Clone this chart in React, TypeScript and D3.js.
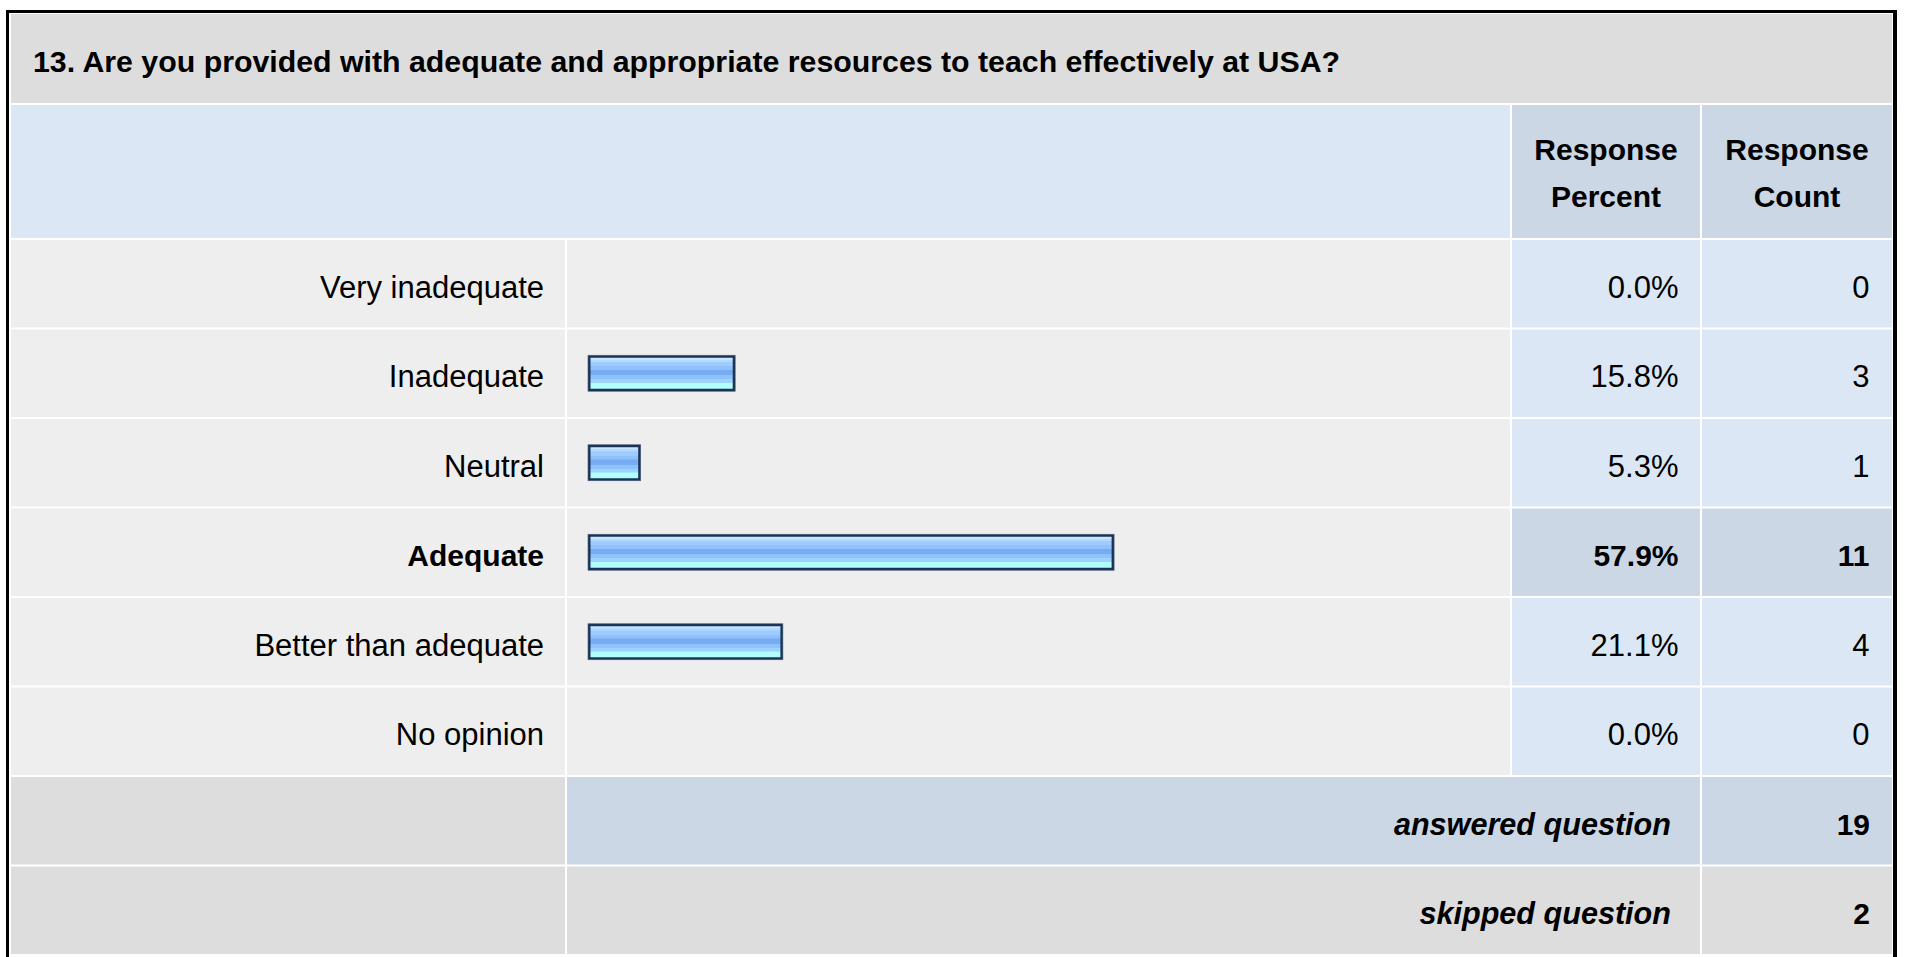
import React from "react";
import * as d3 from "d3";

const title = "13. Are you provided with adequate and appropriate resources to teach effectively at USA?";
const categories = ["Very inadequate", "Inadequate", "Neutral", "Adequate", "Better than adequate", "No opinion"];
const percents = [0.0, 15.8, 5.3, 57.9, 21.1, 0.0];
const counts = [0, 3, 1, 11, 4, 0];
const headerPercent = ["Response", "Percent"];
const headerCount = ["Response", "Count"];
const answeredLabel = "answered question";
const answeredCount = 19;
const skippedLabel = "skipped question";
const skippedCount = 2;

const W = 1907;
const H = 957;
const FONT = "'Liberation Sans', Arial, Helvetica, sans-serif";

const C = {
  gray: "#dddddd",
  light: "#eeeeee",
  blue: "#dce7f5",
  blueDark: "#cbd7e5",
  border: "#000000",
  bar: "#1b3354",
};

export default function App() {
  const colLabel: [number, number] = [11, 565];
  const colBar: [number, number] = [567, 1510];
  const colPct: [number, number] = [1512, 1700];
  const colCnt: [number, number] = [1702, 1892];

  const rowKeys = [...categories, "__answered", "__skipped"];
  const y = d3.scaleBand<string>().domain(rowKeys).range([240, 240 + 89.5 * rowKeys.length]).paddingInner(0).paddingOuter(0);
  const rowH = y.step() - 2;

  const x = d3.scaleLinear().domain([0, 100]).range([0, 900]);
  const barX0 = 588;
  const barH = 36;
  const bw = 2.5;
  const maxIdx = d3.maxIndex(percents);

  const gradStops: [number, string][] = [
    [0, "#c9e5ff"],
    [0.06, "#c9e5ff"],
    [0.07, "#b2d9ff"],
    [0.13, "#b2d9ff"],
    [0.14, "#9fcbff"],
    [0.27, "#9fcbff"],
    [0.28, "#90c1fc"],
    [0.39, "#90c1fc"],
    [0.40, "#76acf2"],
    [0.56, "#76acf2"],
    [0.57, "#8dc2fa"],
    [0.69, "#8dc2fa"],
    [0.70, "#9dd3fe"],
    [0.81, "#9dd3fe"],
    [0.82, "#b0feff"],
    [1, "#b0feff"],
  ];

  const cell = (x0: number, x1: number, y0: number, h: number, fill: string, key: string) => (
    <rect key={key} x={x0} y={y0} width={x1 - x0} height={h} fill={fill} />
  );

  return (
    <svg width={W} height={H} style={{ position: "absolute", left: 0, top: 0, display: "block" }} fontFamily={FONT}>
      <defs>
        <linearGradient id="barGrad" x1="0" y1="0" x2="0" y2="1">
          {gradStops.map(([o, c], i) => (
            <stop key={i} offset={o} stopColor={c} />
          ))}
        </linearGradient>
      </defs>
      <rect x={0} y={0} width={W} height={H} fill="#ffffff" />
      {/* outer border */}
      <rect x={6} y={10} width={1897 - 6} height={H + 10} fill={C.border} />
      <rect x={9} y={13} width={1893 - 9} height={H + 10} fill="#ffffff" />

      {/* title */}
      {cell(11, 1892, 14, 89, C.gray, "title")}
      <text x={33} y={72} fontSize={30.3} fontWeight="bold" fill="#000">{title}</text>

      {/* header */}
      {cell(colLabel[0], colBar[1], 105, 133, C.blue, "h1")}
      {cell(colPct[0], colPct[1], 105, 133, C.blueDark, "h2")}
      {cell(colCnt[0], colCnt[1], 105, 133, C.blueDark, "h3")}
      {headerPercent.map((t, i) => (
        <text key={"hp" + i} x={(colPct[0] + colPct[1]) / 2} y={160 + i * 46.7} fontSize={30} fontWeight="bold" textAnchor="middle">{t}</text>
      ))}
      {headerCount.map((t, i) => (
        <text key={"hc" + i} x={(colCnt[0] + colCnt[1]) / 2} y={160 + i * 46.7} fontSize={30} fontWeight="bold" textAnchor="middle">{t}</text>
      ))}

      {/* data rows */}
      {categories.map((c, i) => {
        const top = y(c)!;
        const hi = i === maxIdx;
        const p = percents[i];
        const w = x(p);
        const by = top + (rowH - barH) / 2;
        return (
          <g key={c}>
            {cell(colLabel[0], colLabel[1], top, rowH, C.light, "l")}
            {cell(colBar[0], colBar[1], top, rowH, C.light, "b")}
            {cell(colPct[0], colPct[1], top, rowH, hi ? C.blueDark : C.blue, "p")}
            {cell(colCnt[0], colCnt[1], top, rowH, hi ? C.blueDark : C.blue, "c")}
            <text x={544} y={top + 57.5} fontSize={hi ? 30 : 31} fontWeight={hi ? "bold" : "normal"} textAnchor="end">{c}</text>
            {p > 0 && (
              <g>
                <rect x={barX0} y={by} width={w + 2 * bw} height={barH} fill={C.bar} stroke="#4a5f7c" strokeWidth={0.6} />
                <rect x={barX0 + bw} y={by + bw} width={w} height={barH - 2 * bw} fill="url(#barGrad)" />
              </g>
            )}
            <text x={1678.5} y={top + 57.5} fontSize={hi ? 30 : 31} fontWeight={hi ? "bold" : "normal"} textAnchor="end">{d3.format(".1f")(p) + "%"}</text>
            <text x={1869.5} y={top + 57.5} fontSize={hi ? 30 : 31} fontWeight={hi ? "bold" : "normal"} textAnchor="end">{counts[i]}</text>
          </g>
        );
      })}

      {/* answered */}
      {(() => {
        const top = y("__answered")!;
        return (
          <g>
            {cell(colLabel[0], colLabel[1], top, rowH, C.gray, "al")}
            {cell(colBar[0], colPct[1], top, rowH, C.blueDark, "am")}
            {cell(colCnt[0], colCnt[1], top, rowH, C.blueDark, "ac")}
            <text x={1671} y={top + 58} fontSize={30.6} fontWeight="bold" fontStyle="italic" textAnchor="end">{answeredLabel}</text>
            <text x={1870} y={top + 58} fontSize={30} fontWeight="bold" textAnchor="end">{answeredCount}</text>
          </g>
        );
      })()}
      {(() => {
        const top = y("__skipped")!;
        return (
          <g>
            {cell(colLabel[0], colLabel[1], top, rowH, C.gray, "sl")}
            {cell(colBar[0], colPct[1], top, rowH, C.gray, "sm")}
            {cell(colCnt[0], colCnt[1], top, rowH, C.gray, "sc")}
            <text x={1671} y={top + 57} fontSize={30.6} fontWeight="bold" fontStyle="italic" textAnchor="end">{skippedLabel}</text>
            <text x={1870} y={top + 57} fontSize={30} fontWeight="bold" textAnchor="end">{skippedCount}</text>
          </g>
        );
      })()}
    </svg>
  );
}
